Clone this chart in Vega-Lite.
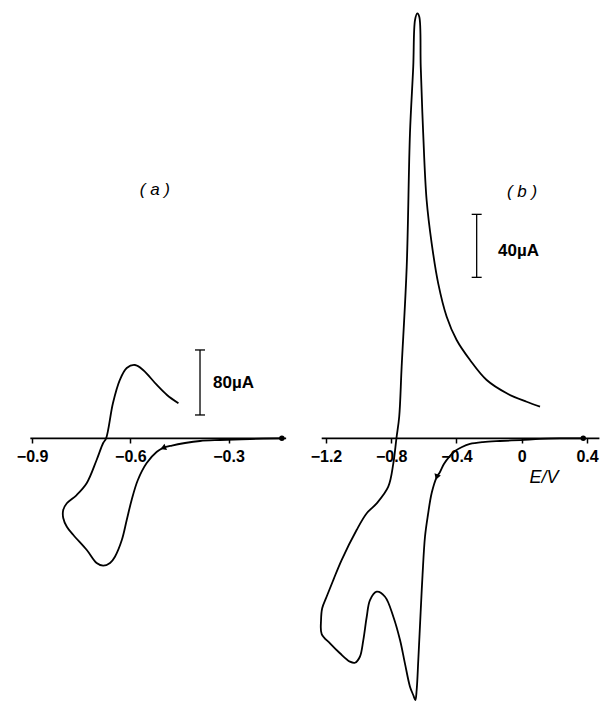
{
  "$schema": "https://vega.github.io/schema/vega-lite/v6.json",
  "padding": 0,
  "spacing": 0,
  "bounds": "flush",
  "background": "white",
  "config": {"view": {"stroke": null}},
  "datasets": {
    "curveA": [
      {"k":0,"E":-0.137,"i":0},{"k":1,"E":-0.234,"i":-0.9},{"k":2,"E":-0.326,"i":-2.1},{"k":3,"E":-0.387,"i":-3.3},
      {"k":4,"E":-0.433,"i":-5.8},{"k":5,"E":-0.473,"i":-8.9},{"k":6,"E":-0.500,"i":-11.9},{"k":7,"E":-0.519,"i":-16.5},
      {"k":8,"E":-0.550,"i":-30.4},{"k":9,"E":-0.577,"i":-51.3},{"k":10,"E":-0.596,"i":-75.9},{"k":11,"E":-0.611,"i":-100.6},
      {"k":12,"E":-0.626,"i":-125.2},{"k":13,"E":-0.647,"i":-145.7},{"k":14,"E":-0.662,"i":-153.5},{"k":15,"E":-0.683,"i":-156.8},
      {"k":16,"E":-0.703,"i":-153.5},{"k":17,"E":-0.733,"i":-137.5},{"k":18,"E":-0.774,"i":-119.0},{"k":19,"E":-0.794,"i":-108.8},
      {"k":20,"E":-0.805,"i":-98.1},{"k":21,"E":-0.805,"i":-88.2},{"k":22,"E":-0.794,"i":-80.0},{"k":23,"E":-0.764,"i":-69.8},
      {"k":24,"E":-0.733,"i":-55.0},{"k":25,"E":-0.703,"i":-26.7},{"k":26,"E":-0.683,"i":-5.8},{"k":27,"E":-0.674,"i":0},
      {"k":28,"E":-0.653,"i":43.4},{"k":29,"E":-0.632,"i":71.8},{"k":30,"E":-0.611,"i":86.5},{"k":31,"E":-0.586,"i":90.2},
      {"k":32,"E":-0.561,"i":84.1},{"k":33,"E":-0.519,"i":65.6},{"k":34,"E":-0.488,"i":53.3},{"k":35,"E":-0.453,"i":43.1}
    ],
    "curveB": [
      {"k":0,"E":0.377,"i":0},{"k":1,"E":0.234,"i":-0.1},{"k":2,"E":0.112,"i":-0.4},{"k":3,"E":-0.005,"i":-1.1},
      {"k":4,"E":-0.133,"i":-1.7},{"k":5,"E":-0.238,"i":-2.4},{"k":6,"E":-0.317,"i":-3.6},{"k":7,"E":-0.366,"i":-5.5},
      {"k":8,"E":-0.409,"i":-8.1},{"k":9,"E":-0.446,"i":-11.9},{"k":10,"E":-0.477,"i":-16.3},{"k":11,"E":-0.501,"i":-21.4},
      {"k":12,"E":-0.521,"i":-24.6},{"k":13,"E":-0.552,"i":-34.7},{"k":14,"E":-0.575,"i":-48.7},{"k":15,"E":-0.593,"i":-62.5},
      {"k":16,"E":-0.608,"i":-86.8},{"k":17,"E":-0.619,"i":-109.0},{"k":18,"E":-0.634,"i":-140.8},{"k":19,"E":-0.644,"i":-159.8},
      {"k":20,"E":-0.652,"i":-166.2},{"k":21,"E":-0.665,"i":-163.0},{"k":22,"E":-0.685,"i":-157.7},{"k":23,"E":-0.716,"i":-142.9},
      {"k":24,"E":-0.746,"i":-128.1},{"k":25,"E":-0.787,"i":-113.3},{"k":26,"E":-0.838,"i":-100.6},{"k":27,"E":-0.889,"i":-97.4},
      {"k":28,"E":-0.930,"i":-102.7},{"k":29,"E":-0.950,"i":-113.3},{"k":30,"E":-0.971,"i":-128.1},{"k":31,"E":-0.992,"i":-138.7},
      {"k":32,"E":-1.022,"i":-142.5},{"k":33,"E":-1.053,"i":-141.8},{"k":34,"E":-1.114,"i":-136.5},{"k":35,"E":-1.175,"i":-130.2},
      {"k":36,"E":-1.226,"i":-124.3},{"k":37,"E":-1.230,"i":-115.4},{"k":38,"E":-1.223,"i":-107.9},{"k":39,"E":-1.196,"i":-100.6},
      {"k":40,"E":-1.155,"i":-90.0},{"k":41,"E":-1.104,"i":-77.3},{"k":42,"E":-1.012,"i":-58.2},{"k":43,"E":-0.950,"i":-47.6},
      {"k":44,"E":-0.889,"i":-41.3},{"k":45,"E":-0.818,"i":-30.7},{"k":46,"E":-0.787,"i":-15.9},{"k":47,"E":-0.768,"i":0},
      {"k":48,"E":-0.751,"i":13.7},{"k":49,"E":-0.736,"i":45.5},{"k":50,"E":-0.705,"i":109.0},{"k":51,"E":-0.685,"i":193.7},
      {"k":52,"E":-0.665,"i":235.9},{"k":53,"E":-0.654,"i":265.6},{"k":54,"E":-0.640,"i":269.8},{"k":55,"E":-0.628,"i":267.7},
      {"k":56,"E":-0.619,"i":235.9},{"k":57,"E":-0.604,"i":193.7},{"k":58,"E":-0.583,"i":151.3},{"k":59,"E":-0.552,"i":123.8},
      {"k":60,"E":-0.512,"i":98.4},{"k":61,"E":-0.460,"i":77.2},{"k":62,"E":-0.399,"i":62.4},{"k":63,"E":-0.317,"i":49.7},
      {"k":64,"E":-0.215,"i":37.0},{"k":65,"E":-0.092,"i":28.6},{"k":66,"E":0.030,"i":23.2},{"k":67,"E":0.112,"i":20.1}
    ]
  },
  "hconcat": [
    {
      "width": 300,
      "height": 701,
      "encoding": {
        "x": {"field": "E", "type": "quantitative",
          "scale": {"domain": [-0.9982, -0.0816], "nice": false, "zero": false},
          "axis": {"values": [-0.9, -0.6, -0.3], "format": ".1f", "orient": "bottom", "offset": -263,
            "domain": false, "grid": false, "title": null, "ticks": true, "tickSize": 5, "tickWidth": 1.5, "tickColor": "black",
            "labelFont": "Liberation Sans", "labelFontWeight": "bold", "labelFontSize": 16, "labelColor": "black",
            "labelPadding": 5, "labelFlush": false, "labelOverlap": false}},
        "y": {"field": "i", "type": "quantitative",
          "scale": {"domain": [-323.3, 539.4], "nice": false, "zero": false}, "axis": null}
      },
      "layer": [
        {"data": {"values": [{"E": -0.9055, "E2": -0.124, "i": 0}]},
         "mark": {"type": "rule", "color": "black", "strokeWidth": 1.8},
         "encoding": {"x2": {"field": "E2"}}},
        {"data": {"name": "curveA"},
         "mark": {"type": "line", "color": "black", "strokeWidth": 1.8, "interpolate": "catmull-rom"},
         "encoding": {"order": {"field": "k", "type": "quantitative"}}},
        {"data": {"values": [{"E": -0.137, "i": 0}]},
         "mark": {"type": "point", "filled": true, "color": "black", "size": 30, "opacity": 1},
         "encoding": {}},
        {"data": {"values": [{"E": -0.500, "i": -11.9}]},
         "mark": {"type": "point", "shape": "triangle-left", "angle": 338, "filled": true, "color": "black", "size": 45, "opacity": 1},
         "encoding": {}},
        {"data": {"values": [{"E": -0.3871, "i": 28.7, "i2": 108.7}]},
         "mark": {"type": "rule", "color": "black", "strokeWidth": 1.3},
         "encoding": {"y2": {"field": "i2"}}},
        {"data": {"values": [{"E": -0.4024, "E2": -0.3718, "i": 28.7}, {"E": -0.4024, "E2": -0.3718, "i": 108.7}]},
         "mark": {"type": "rule", "color": "black", "strokeWidth": 1.3},
         "encoding": {"x2": {"field": "E2"}}},
        {"data": {"values": [{"E": -0.3474, "i": 68.1, "label": "80µA"}]},
         "mark": {"type": "text", "align": "left", "baseline": "middle", "font": "Liberation Sans", "fontWeight": "bold", "fontSize": 17, "color": "black"},
         "encoding": {"text": {"field": "label"}}},
        {"data": {"values": [{"E": -0.525, "i": 305.6, "label": "( a )"}]},
         "mark": {"type": "text", "align": "center", "baseline": "middle", "font": "Liberation Sans", "fontStyle": "italic", "fontSize": 17, "color": "black"},
         "encoding": {"text": {"field": "label"}}}
      ]
    },
    {
      "width": 300,
      "height": 701,
      "encoding": {
        "x": {"field": "E", "type": "quantitative",
          "scale": {"domain": [-1.359, 0.4796], "nice": false, "zero": false},
          "axis": {"values": [-1.2, -0.8, -0.4, 0, 0.4], "format": ".1~f", "orient": "bottom", "offset": -263,
            "domain": false, "grid": false, "title": null, "ticks": true, "tickSize": 5, "tickWidth": 1.5, "tickColor": "black",
            "labelFont": "Liberation Sans", "labelFontWeight": "bold", "labelFontSize": 16, "labelColor": "black",
            "labelPadding": 5, "labelFlush": false, "labelOverlap": false}},
        "y": {"field": "i", "type": "quantitative",
          "scale": {"domain": [-166.8, 278.3], "nice": false, "zero": false}, "axis": null}
      },
      "layer": [
        {"data": {"values": [{"E": -1.226, "E2": 0.476, "i": 0}]},
         "mark": {"type": "rule", "color": "black", "strokeWidth": 1.8},
         "encoding": {"x2": {"field": "E2"}}},
        {"data": {"name": "curveB"},
         "mark": {"type": "line", "color": "black", "strokeWidth": 1.8, "interpolate": "catmull-rom"},
         "encoding": {"order": {"field": "k", "type": "quantitative"}}},
        {"data": {"values": [{"E": 0.377, "i": 0}]},
         "mark": {"type": "point", "filled": true, "color": "black", "size": 30, "opacity": 1},
         "encoding": {}},
        {"data": {"values": [{"E": -0.521, "i": -24.6}]},
         "mark": {"type": "point", "shape": "triangle-down", "angle": 19, "filled": true, "color": "black", "size": 45, "opacity": 1},
         "encoding": {}},
        {"data": {"values": [{"E": -0.2762, "i": 102.2, "i2": 142.2}]},
         "mark": {"type": "rule", "color": "black", "strokeWidth": 1.3},
         "encoding": {"y2": {"field": "i2"}}},
        {"data": {"values": [{"E": -0.3068, "E2": -0.2456, "i": 102.2}, {"E": -0.3068, "E2": -0.2456, "i": 142.2}]},
         "mark": {"type": "rule", "color": "black", "strokeWidth": 1.3},
         "encoding": {"x2": {"field": "E2"}}},
        {"data": {"values": [{"E": -0.1456, "i": 118.9, "label": "40µA"}]},
         "mark": {"type": "text", "align": "left", "baseline": "middle", "font": "Liberation Sans", "fontWeight": "bold", "fontSize": 17, "color": "black"},
         "encoding": {"text": {"field": "label"}}},
        {"data": {"values": [{"E": 0.0015, "i": 156.4, "label": "( b )"}]},
         "mark": {"type": "text", "align": "center", "baseline": "middle", "font": "Liberation Sans", "fontStyle": "italic", "fontSize": 17, "color": "black"},
         "encoding": {"text": {"field": "label"}}},
        {"data": {"values": [{"E": 0.1363, "i": -25.2, "label": "E/V"}]},
         "mark": {"type": "text", "align": "center", "baseline": "middle", "font": "Liberation Sans", "fontStyle": "italic", "fontSize": 18, "color": "black"},
         "encoding": {"text": {"field": "label"}}}
      ]
    }
  ]
}
